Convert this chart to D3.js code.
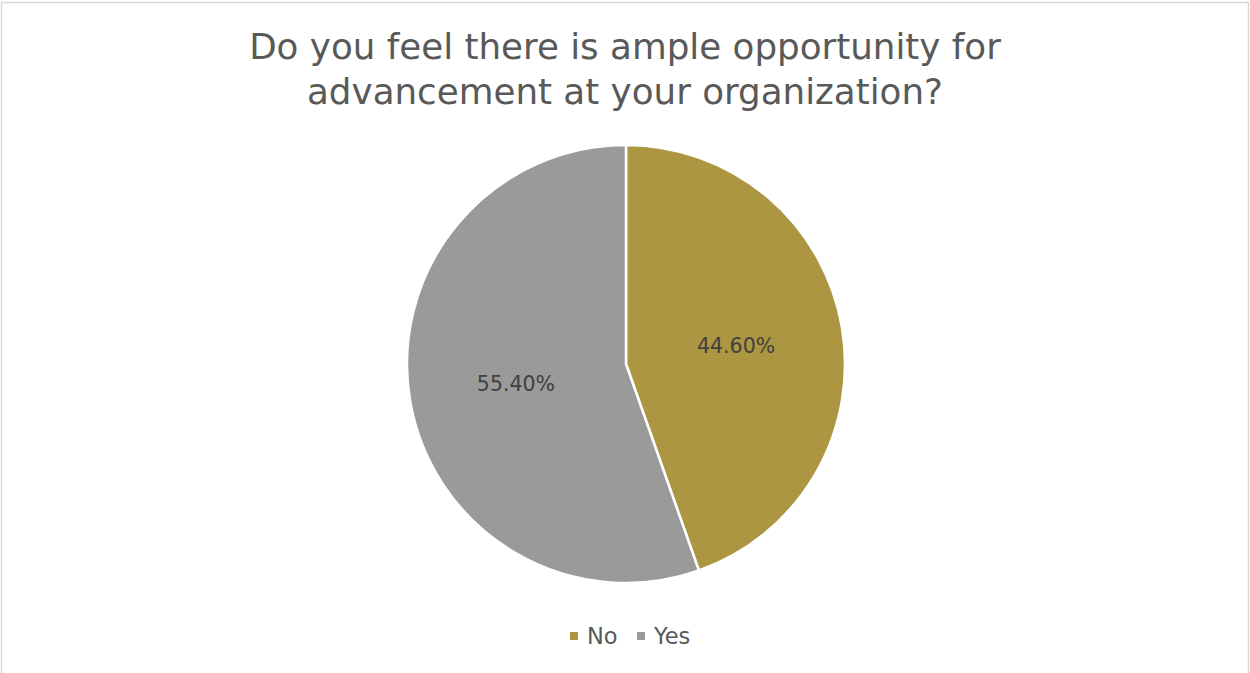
<!DOCTYPE html>
<html>
<head>
<meta charset="utf-8">
<script src="https://cdn.jsdelivr.net/npm/d3@7"></script>
<style>
  html, body { margin: 0; padding: 0; background: #fff; }
  svg { display: block; }
  text { font-family: "DejaVu Sans", sans-serif; }
</style>
</head>
<body>
<svg id="chart" width="1250" height="673"></svg>
<script>
// Survey answers and their shares (percent)
const categories = ["No", "Yes"];
const shares = [44.6, 55.4];
const colors = ["#AD9642", "#9A9A9A"];
const titleLines = ["Do you feel there is ample opportunity for", "advancement at your organization?"];

const W = 1250, H = 673;
const svg = d3.select("#chart");

// Chart frame
svg.append("rect")
  .attr("x", 1.5).attr("y", 2.5)
  .attr("width", W - 3).attr("height", H + 10)
  .attr("fill", "#fff").attr("stroke", "#D9D9D9").attr("stroke-width", 1.5);

// Title, two lines
svg.append("g")
  .selectAll("text").data(titleLines).join("text")
  .attr("text-anchor", "middle")
  .attr("fill", "#595959")
  .attr("font-size", 35.7)
  .attr("x", 625)
  .attr("y", (d, i) => 59 + i * 45)
  .text(d => d);

// Pie
const cx = 626, cy = 364, r = 219;
const color = d3.scaleOrdinal().domain(categories).range(colors);
const data = categories.map((c, i) => ({ category: c, value: shares[i] }));
const pie = d3.pie().value(d => d.value).sort(null);
const arcs = pie(data);
const arc = d3.arc().innerRadius(0).outerRadius(r);
const labelArc = d3.arc().innerRadius(r * 0.51).outerRadius(r * 0.51);

const g = svg.append("g").attr("transform", `translate(${cx},${cy})`);
g.selectAll("path").data(arcs).join("path")
  .attr("d", arc)
  .attr("fill", d => color(d.data.category))
  .attr("stroke", "#fff")
  .attr("stroke-width", 2.5)
  .attr("stroke-linejoin", "round");

g.selectAll("text.lbl").data(arcs).join("text")
  .attr("class", "lbl")
  .attr("transform", d => `translate(${labelArc.centroid(d)})`)
  .attr("text-anchor", "middle")
  .attr("dy", "0.4em")
  .attr("fill", "#404040")
  .attr("font-size", 20.5)
  .text(d => d.data.value.toFixed(2) + "%");

// Legend
const legend = svg.append("g").attr("transform", "translate(0,636)");
const items = [{ x: 570 }, { x: 637 }];
categories.forEach((c, i) => {
  const it = legend.append("g").attr("transform", `translate(${items[i].x},0)`);
  it.append("rect").attr("x", 0).attr("y", -4).attr("width", 8).attr("height", 8)
    .attr("fill", color(c));
  it.append("text").attr("x", 17).attr("dy", "0.36em")
    .attr("fill", "#595959").attr("font-size", 22.5).text(c);
});
</script>
</body>
</html>
